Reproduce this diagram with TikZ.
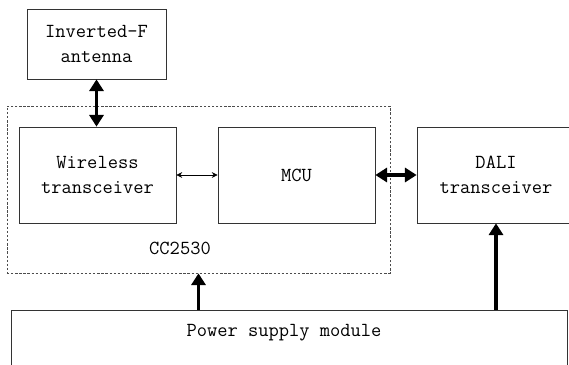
\documentclass[tikz,border=0pt]{standalone}
\usepackage{tikz}
\usetikzlibrary{arrows.meta}
\usetikzlibrary{positioning}

\begin{document}
\begin{tikzpicture}[x=0.03cm, y=-0.03cm,
    blk/.style={shape=rectangle, draw=black!80, line width=0.6pt, inner sep=0pt, align=center,
        font=\ttfamily\fontsize{17}{21}\selectfont},
    thick arr/.style={line width=3pt, {Triangle[length=10pt,width=12pt]}-{Triangle[length=10pt,width=12pt]}},
    up arr/.style={line width=3pt, -{Triangle[length=10pt,width=12pt]}},
    thin arr/.style={line width=0.6pt, {Stealth[length=5pt,width=5pt]}-{Stealth[length=5pt,width=5pt]}}]
    \useasboundingbox (0,0) rectangle (569,364);

    \node[blk, minimum width=4.17cm, minimum height=2.1cm] (ant) at (96.5,44) {Inverted-F\\antenna};
    \node[blk, dash pattern=on 2pt off 1.5pt, draw=black!70, minimum width=11.49cm, minimum height=5.01cm] (cc) at (198.5,189.5) {};
    \node[blk, minimum width=4.71cm, minimum height=2.88cm] (wl) at (97.5,175) {Wireless\\transceiver};
    \node[blk, minimum width=4.71cm, minimum height=2.88cm] (mcu) at (296.5,175) {MCU};
    \node[blk, minimum width=4.74cm, minimum height=2.88cm] (dali) at (496,175) {DALI\\transceiver};
    \node[font=\ttfamily\fontsize{17}{21}\selectfont] (cclabel) at (180,248) {CC2530};
    \node[blk, minimum width=16.68cm, minimum height=1.8cm] (pwr) at (289,340) {};
    \node[font=\ttfamily\fontsize{17}{21}\selectfont] (pwrlabel) at (284,333) {Power supply module};

    \draw[thick arr] (ant.south) -- (ant.south |- wl.north);
    \draw[thin arr] (wl.east) -- (mcu.west);
    \draw[thick arr] (mcu.east) -- (dali.west);
    \draw[up arr] (pwr.north -| cc) -- (cc.south);
    \draw[up arr] (pwr.north -| dali) -- (dali.south);
\end{tikzpicture}
\end{document}
